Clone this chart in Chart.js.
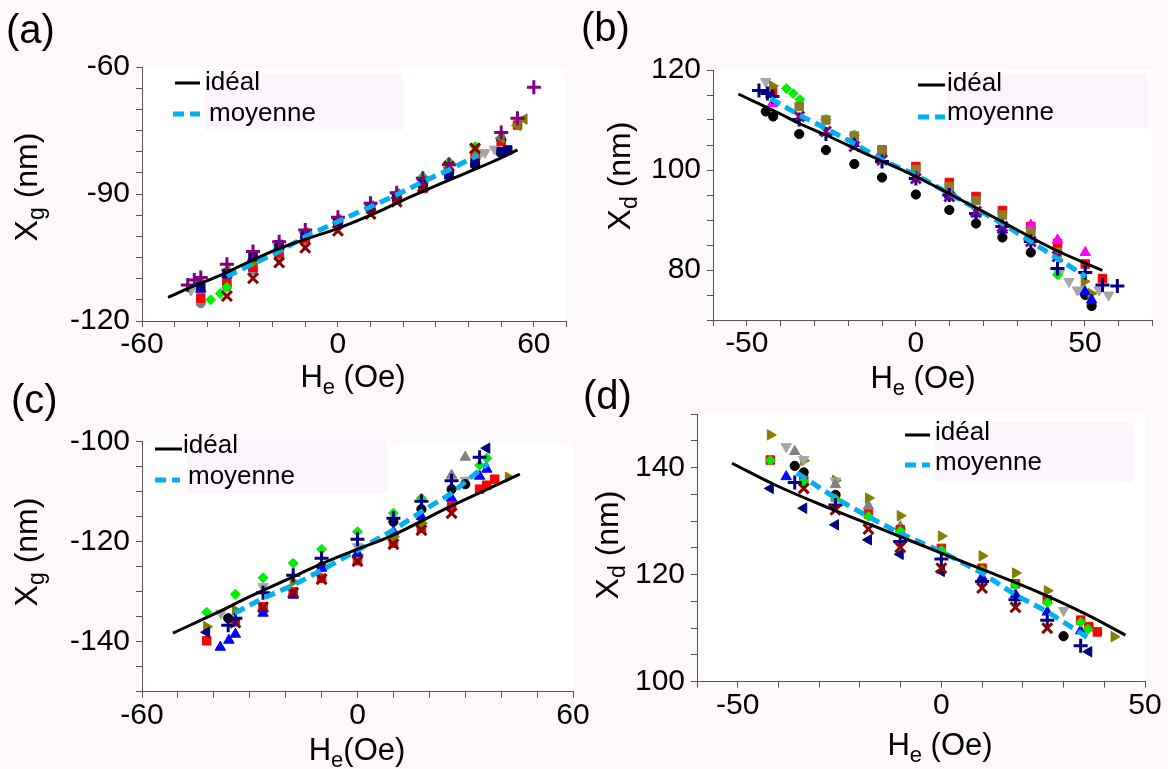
<!DOCTYPE html>
<html><head><meta charset="utf-8">
<script src="https://cdn.jsdelivr.net/npm/chart.js@4.4.0/dist/chart.umd.min.js"></script>
<style>
html,body{margin:0;padding:0;background:#fdf8fc;}
#wrap{position:relative;width:1168px;height:769px;overflow:hidden;}
canvas{position:absolute;left:0;top:0;}
</style></head><body><div id="wrap">
<canvas id="ca" width="1168" height="769"></canvas>
<canvas id="cb" width="1168" height="769"></canvas>
<canvas id="cc" width="1168" height="769"></canvas>
<canvas id="cd" width="1168" height="769"></canvas>
</div>
<script>
// ---------- labels ----------
const legendLabels = ['idéal', 'moyenne'];
const panelLetters = ['(a)', '(b)', '(c)', '(d)'];

// ---------- panel (a) ----------
const aIdealX = [-52, -45, -37, -28, -19, -10, 0, 10, 19, 29, 39, 47, 55];
const aIdealY = [-114.4, -112.0, -109.5, -106.3, -103.2, -100.7, -98.1, -95.0, -91.8, -88.4, -85.1, -82.5, -79.6];
const aMoyX = [-34, -26, -18, -10, 0, 10, 18, 26, 34, 43];
const aMoyY = [-109.5, -106.5, -103.6, -100.1, -96.5, -93.0, -90.2, -87.1, -84.3, -80.8];
const aPlusX = [-46, -44, -42, -34, -26, -18, -10, 0, 10, 18, 26, 34, 50, 55, 60];
const aPlusY = [-111.5, -110.3, -109.7, -106.6, -103.6, -101.3, -98.5, -95.5, -92.2, -89.7, -86.3, -83.1, -75.5, -72.1, -64.8];
const aXX = [-34, -26, -18, -10, 0, 10, 18, 26, 34, 42];
const aXY = [-114.1, -109.9, -106.2, -102.7, -98.7, -94.7, -91.8, -88.3, -83.5, -79.2];
const aSqX = [-42, -34, -26, -18, -10, 0, 10, 18, 26, 34, 42, 50, 55];
const aSqY = [-114.6, -111.0, -107.3, -104.0, -100.5, -97.0, -93.6, -91.3, -88.7, -84.8, -80.8, -77.6, -73.7];
const aGrayCircX = [-42, -34, -26, -18, -10];
const aGrayCircY = [-115.8, -111.9, -108.0, -104.8, -101.5];
const aBlueTriX = [-42, -34, -26, -18, -10, 0, 10, 18, 26, 34, 50];
const aBlueTriY = [-112.5, -109.1, -105.0, -102.3, -99.5, -96.2, -93.0, -90.3, -87.3, -84.3, -76.6];
const aOliveX = [-42, -34, -26, -18, -10, 0, 10, 18, 26, 34, 42, 50, 55, 57];
const aOliveY = [-111.1, -108.0, -105.6, -102.0, -99.2, -96.0, -92.8, -90.0, -86.8, -83.8, -80.2, -76.8, -73.8, -72.3];
const aGrayTriX = [-45, -42, 43, 45, 48];
const aGrayTriY = [-112.7, -113.2, -81.2, -80.2, -79.4];
const aGreenX = [-39, -36, -34, -26, -18, 26, 34, 42];
const aGreenY = [-115.0, -113.5, -112.0, -105.8, -102.5, -85.9, -82.4, -78.8];
const aNavyX = [-42, -34, -26, -18, -10, 0, 10, 18, 26, 34, 42, 50, 52];
const aNavyY = [-111.8, -108.8, -104.8, -102.0, -99.7, -96.5, -93.0, -90.6, -87.5, -85.5, -82.8, -80.0, -79.6];
const aBlackX = [42, 50];
const aBlackY = [-83.1, -80.3];

// ---------- panel (b) ----------
const bIdealX = [-52.5, -40, -34.5, -26.6, -13, 0, 12, 24.6, 40.4, 55.2];
const bIdealY = [115.2, 111.2, 109.3, 107.0, 102.7, 98.7, 94.5, 90.0, 84.3, 79.9];
const bMoyX = [-43, -34.5, -26.6, -18.2, -10, 0, 9.9, 17.8, 25.6, 34, 41.9, 50.3];
const bMoyY = [114.3, 111.0, 108.3, 105.3, 102.0, 99.0, 95.3, 92.3, 89.3, 85.7, 82.3, 78.7];
const bBlackX = [-44.4, -42.2, -34.5, -26.6, -18.2, -10, 0, 9.9, 17.8, 25.6, 34, 50.1, 52];
const bBlackY = [111.7, 110.7, 107.2, 104.0, 101.2, 98.5, 95.1, 92.0, 89.3, 86.5, 83.5, 75.0, 72.8];
const bNavyPlusX = [-46.4, -43.9, -42.4, -34.5, -26.6, -10, 0, 9.9, 17.8, 25.6, 34, 41.9, 50.1, 55.2, 59.6];
const bNavyPlusY = [115.9, 115.3, 114.7, 110.1, 107.2, 101.7, 98.3, 95.0, 91.3, 88.7, 85.7, 80.3, 79.5, 77.0, 76.8];
const bPurpleXX = [-34.5, -26.6, -18.2, -10, 0, 9.9, 17.8, 25.6, 34, 41.9];
const bPurpleXY = [110.7, 107.7, 104.7, 102.0, 98.3, 94.7, 91.7, 88.7, 85.7, 82.7];
const bRedX = [-42.4, -10, 0, 9.9, 17.8, 25.6, 34, 41.9, 50.1, 55.2];
const bRedY = [115.7, 104.0, 100.7, 97.5, 94.7, 91.9, 88.7, 85.3, 81.2, 78.3];
const bMagentaX = [-42.4, 34, 41.9, 50.1];
const bMagentaY = [113.3, 89.0, 86.0, 83.5];
const bOliveSqX = [-34.5, -26.6, -18.2, -10, 0, 9.9, 17.8, 25.6, 34, 41.9];
const bOliveSqY = [112.7, 110.0, 106.8, 103.9, 100.1, 96.7, 93.9, 91.0, 87.7, 83.5];
const bOliveTriX = [-42.4, 49.8, 51.8];
const bOliveTriY = [116.8, 77.7, 75.3];
const bGrayTriX = [-44.4, 42.4, 45.3, 47.8, 54.2, 57];
const bGrayTriY = [117.7, 79.3, 77.7, 76.0, 76.0, 75.0];
const bGreenX = [-38.3, -36.3, -34.3, -26.6, -18.2, 41.9];
const bGreenY = [116.3, 115.3, 114.1, 110.1, 107.0, 79.1];
const bBlueTriX = [-18.2, 9.9, 17.8, 25.6, 50, 52];
const bBlueTriY = [105.3, 95.0, 91.2, 88.0, 75.7, 74.0];

// ---------- panel (c) ----------
const cIdealX = [-51.4, -40, -30, -20, -9.6, 0, 9.9, 25.7, 35, 45.2];
const cIdealY = [-138.3, -134.5, -131.0, -127.7, -124.3, -121.5, -118.7, -113.0, -109.9, -106.5];
const cMoyX = [-34.2, -26.3, -17.9, -10, 0, 9.9, 17.8, 26.2, 36.4];
const cMoyY = [-134.3, -131.3, -128.7, -125.7, -121.7, -117.7, -114.0, -110.3, -104.3];
const cGreenX = [-42, -34, -26.3, -17.9, -10, 0, 10, 17.8, 34, 36];
const cGreenY = [-134.1, -130.5, -127.2, -124.3, -121.5, -118.0, -114.3, -111.3, -104.7, -103.3];
const cNavyPlusX = [-36, -34, -26.3, -17.9, -10, 0, 10, 17.8, 26.2, 34];
const cNavyPlusY = [-136.7, -135.3, -130.2, -126.7, -123.3, -119.5, -115.3, -111.9, -107.8, -103.1];
const cRedX = [-42, -34, -26.3, -17.9, -10, 0, 10, 17.8, 26.2, 34, 36, 38.2];
const cRedY = [-139.8, -136.0, -133.0, -130.0, -127.3, -123.8, -120.3, -117.3, -113.0, -109.5, -108.7, -107.5];
const cXX = [-34, -26.3, -17.9, -10, 0, 10, 17.8, 26.2];
const cXY = [-136.2, -133.1, -130.2, -127.5, -123.9, -120.5, -117.7, -114.3];
const cBlueTriX = [-38.2, -35.8, -34, -26.3, -17.9, -10, 0, 10, 17.8, 26.2, 34, 36];
const cBlueTriY = [-141.1, -139.7, -138.5, -134.3, -130.7, -125.3, -122.3, -118.0, -115.0, -111.3, -106.9, -105.5];
const cNavyLeftX = [-42, 36];
const cNavyLeftY = [-138.1, -101.3];
const cOliveX = [-42, -34, -17.9, -10, 0, 10, 17.8, 42];
const cOliveY = [-137.0, -133.7, -128.0, -125.3, -122.7, -119.0, -116.3, -107.1];
const cGrayUpX = [26.2, 30];
const cGrayUpY = [-106.7, -103.1];
const cGrayDownX = [-38, -26.3, 0, 30];
const cGrayDownY = [-134.3, -129.0, -121.0, -107.7];
const cBlackX = [-36, -10, 10, 17.8, 26.2, 30];
const cBlackY = [-135.3, -125.0, -116.0, -113.5, -109.5, -108.5];

// ---------- panel (d) ----------
const dIdealX = [-51.4, -40.4, -26.5, -13, 0, 11, 22.7, 35, 45.2];
const dIdealY = [140.8, 136.6, 132.1, 128.0, 124.0, 120.7, 117.1, 112.8, 108.7];
const dMoyX = [-35.5, -26, -17.9, -10.1, 0, 10, 18.2, 26, 36.2];
const dMoyY = [139.0, 134.3, 130.8, 127.7, 124.3, 120.3, 116.2, 113.1, 108.1];
const dOliveX = [-42, -33.8, -26, -17.9, -10.1, 0, 10, 18.2, 26, 42.4];
const dOliveY = [146.1, 141.3, 137.6, 134.3, 131.0, 127.2, 123.5, 120.3, 117.0, 108.4];
const dRedX = [-42, -33.8, -26, -17.9, -10.1, 0, 10, 18.2, 26, 34.2, 36.2, 38.3];
const dRedY = [141.4, 137.7, 134.5, 131.3, 128.4, 124.9, 121.2, 118.3, 115.3, 111.5, 110.3, 109.3];
const dGreenX = [-42, -33.8, -26, -17.9, -10.1, 0, 10, 18.2, 26, 34.2, 36];
const dGreenY = [141.3, 137.4, 134.1, 130.9, 128.1, 124.5, 120.9, 118.1, 114.8, 111.1, 109.8];
const dGrayDownX = [-38.1, -33.8, -26, 30];
const dGrayDownY = [143.9, 141.5, 137.5, 113.3];
const dGrayUpX = [-36, -26, -17.9, -10.1];
const dGrayUpY = [143.0, 136.8, 132.8, 129.0];
const dBlackX = [-36, -33.8, -26, 30];
const dBlackY = [140.3, 139.1, 134.9, 108.5];
const dBlueTriX = [-38.1, 10, 18.2, 26, 34.2];
const dBlueTriY = [138.3, 119.5, 116.3, 113.0, 109.5];
const dNavyPlusX = [-36, -26, -10.1, 0, 10, 18.2, 26, 34.2];
const dNavyPlusY = [137.2, 133.0, 126.2, 122.9, 118.7, 115.3, 111.5, 106.7];
const dNavyLeftX = [-42, -33.8, -26, -17.9, -10.1, 0, 36.2];
const dNavyLeftY = [136.1, 132.4, 129.3, 126.5, 123.8, 120.6, 105.6];
const dXX = [-33.8, -26, -17.9, -10.1, 0, 10, 18.2, 26];
const dXY = [136.1, 132.1, 128.5, 125.1, 121.2, 117.5, 113.9, 110.0];

// ---------- styles ----------
const COL = {purple:'#800080', darkred:'#8b0000', red:'#ff0000', gray:'#808080', lgray:'#a6a6a6',
  blue:'#0000ff', olive:'#808000', green:'#00ee00', navy:'#000080', black:'#000000', magenta:'#ff00ff'};
const SHAPE = {
  plus:{ps:'cross', rot:0, r:7, bw:3},
  xrot:{ps:'crossRot', rot:0, r:7, bw:3},
  sq:{ps:'rect', rot:0, r:6, bw:1},
  circ:{ps:'circle', rot:0, r:4.6, bw:1},
  up:{ps:'triangle', rot:0, r:6, bw:1},
  down:{ps:'triangle', rot:180, r:6, bw:1},
  left:{ps:'triangle', rot:-90, r:6, bw:1},
  right:{ps:'triangle', rot:90, r:6, bw:1},
  diam:{ps:'rectRot', rot:0, r:5, bw:1}
};
const zip = (xs, ys) => xs.map((x, i) => ({x, y: ys[i]}));
function pts(xs, ys, color, shape) {
  const s = SHAPE[shape];
  return {data: zip(xs, ys), showLine:false, pointStyle:s.ps, rotation:s.rot, pointRadius:s.r,
    pointBorderWidth:s.bw, borderColor:color, backgroundColor:color, pointBackgroundColor:color, pointBorderColor:color};
}
function ideal(xs, ys) {
  return {label: legendLabels[0], data: zip(xs, ys), showLine:true, pointRadius:0, borderColor:'#000', borderWidth:3,
    tension:0.4, fill:false};
}
function moy(xs, ys) {
  return {label: legendLabels[1], data: zip(xs, ys), showLine:true, pointRadius:0, borderColor:'#00b0f0', borderWidth:5,
    borderDash:[11,6], fill:false};
}

// ---------- text plugin ----------
const FONT = '"Liberation Sans", Arial, sans-serif';
function drawParts(ctx, parts, cx, cy, rotate) {
  ctx.save();
  ctx.translate(cx, cy);
  if (rotate) ctx.rotate(-Math.PI/2);
  let total = 0;
  parts.forEach(p => { ctx.font = p.s + 'px ' + FONT; p.w = ctx.measureText(p.t).width; total += p.w; });
  let x = -total/2;
  ctx.fillStyle = '#000';
  ctx.textBaseline = 'alphabetic';
  ctx.textAlign = 'left';
  parts.forEach(p => { ctx.font = p.s + 'px ' + FONT; ctx.fillText(p.t, x, 11 + (p.dy||0)); x += p.w; });
  ctx.restore();
}
const decor = {
  id:'decor',
  beforeDraw(chart) {
    const {ctx, chartArea:a} = chart;
    ctx.save(); ctx.fillStyle = '#ffffff'; ctx.fillRect(a.left, a.top, a.right-a.left, a.bottom-a.top); ctx.restore();
  },
  afterDraw(chart, args, o) {
    const ctx = chart.ctx;
    const L = o.legend;
    ctx.save();
    ctx.fillStyle = '#fdf5fc';
    ctx.fillRect(L.box[0], L.box[1], L.box[2], L.box[3]);
    ctx.lineWidth = 3; ctx.strokeStyle = '#000'; ctx.setLineDash([]);
    ctx.beginPath(); ctx.moveTo(L.l1[0], L.l1[2]); ctx.lineTo(L.l1[1], L.l1[2]); ctx.stroke();
    ctx.lineWidth = 5; ctx.strokeStyle = '#00b0f0'; ctx.setLineDash([11,6]);
    ctx.beginPath(); ctx.moveTo(L.l2[0], L.l2[2]); ctx.lineTo(L.l2[1], L.l2[2]); ctx.stroke();
    ctx.setLineDash([]);
    ctx.fillStyle = '#000'; ctx.font = '26px ' + FONT;
    ctx.textBaseline = 'middle'; ctx.textAlign = 'left';
    ctx.fillText(chart.data.datasets[0].label, L.t1[0], L.t1[1]);
    ctx.fillText(chart.data.datasets[1].label, L.t2[0], L.t2[1]);
    ctx.font = '40px ' + FONT;
    ctx.textBaseline = 'alphabetic';
    ctx.fillText(o.letter, o.letterPos[0], o.letterPos[1]);
    ctx.restore();
    drawParts(ctx, [{t:'X', s:32}, {t:o.ysub, s:23, dy:7}, {t:' (nm)', s:32}], o.yTitle[0], o.yTitle[1], true);
    drawParts(ctx, [{t:'H', s:31}, {t:'e', s:22, dy:7}, {t:o.xgap + '(Oe)', s:31}], o.xTitle[0], o.xTitle[1], false);
  }
};

function makeChart(id, p) {
  const W = 1168, H = 769;
  const tickFont = {family:FONT, size:30};
  const axisCommon = {
    grid:{display:true, drawOnChartArea:false, drawTicks:true, tickLength:6, tickColor:'#555', color:'#555'},
    border:{display:true, color:'#555', width:1}
  };
  new Chart(document.getElementById(id), {
    type:'scatter',
    data:{datasets:p.datasets},
    options:{
      responsive:false, animation:false, events:[],
      layout:{padding:{left:0, top:p.top, right:W - p.right, bottom:0}},
      plugins:{legend:{display:false}, tooltip:{enabled:false}, decor:p.decor},
      scales:{
        x:Object.assign({type:'linear', position:'bottom', min:p.xr[0], max:p.xr[1],
          ticks:{stepSize:p.xr[2], autoSkip:false, maxRotation:0, padding:0, color:'#000', font:tickFont,
            callback:(v) => p.xmaj.includes(v) ? String(v) : ''},
          afterFit:(s) => { s.height = H - p.bottom; }}, axisCommon),
        y:Object.assign({type:'linear', position:'left', min:p.yr[0], max:p.yr[1],
          ticks:{stepSize:p.yr[2], autoSkip:false, padding:6, color:'#000', font:tickFont,
            callback:(v) => p.ymaj.includes(v) ? String(v) : ''},
          afterFit:(s) => { s.width = p.left; }}, axisCommon)
      }
    },
    plugins:[decor]
  });
}

makeChart('ca', {
  left:142, right:566.5, top:67, bottom:321,
  xr:[-60, 70, 10], xmaj:[-60, 0, 60], yr:[-120, -60, 5], ymaj:[-120, -90, -60],
  datasets:[
    ideal(aIdealX, aIdealY), moy(aMoyX, aMoyY),
    pts(aPlusX, aPlusY, COL.purple, 'plus'),
    pts(aXX, aXY, COL.darkred, 'xrot'),
    pts(aNavyX, aNavyY, COL.navy, 'sq'),
    pts(aBlackX, aBlackY, COL.black, 'circ'),
    pts(aOliveX, aOliveY, COL.olive, 'left'),
    pts(aBlueTriX, aBlueTriY, COL.blue, 'up'),
    pts(aGreenX, aGreenY, COL.green, 'diam'),
    pts(aSqX, aSqY, COL.red, 'sq'),
    pts(aGrayCircX, aGrayCircY, COL.gray, 'circ'),
    pts(aGrayTriX, aGrayTriY, COL.lgray, 'down')
  ],
  decor:{legend:{box:[205,73,198,57], l1:[175,200,83], t1:[205,83], l2:[173,200,114], t2:[209,114]},
    letter:panelLetters[0], letterPos:[6,43], ysub:'g', yTitle:[26,187], xTitle:[353,376], xgap:' '}
});

makeChart('cb', {
  left:713, right:1152.5, top:70, bottom:320,
  xr:[-60, 70, 10], xmaj:[-50, 0, 50], yr:[70, 120, 5], ymaj:[80, 100, 120],
  datasets:[
    ideal(bIdealX, bIdealY), moy(bMoyX, bMoyY),
    pts(bPurpleXX, bPurpleXY, COL.purple, 'xrot'),
    pts(bNavyPlusX, bNavyPlusY, COL.navy, 'plus'),
    pts(bBlueTriX, bBlueTriY, COL.blue, 'up'),
    pts(bOliveSqX, bOliveSqY, '#8c7a2a', 'sq'),
    pts(bOliveTriX, bOliveTriY, COL.olive, 'right'),
    pts(bMagentaX, bMagentaY, COL.magenta, 'up'),
    pts(bRedX, bRedY, COL.red, 'sq'),
    pts(bGreenX, bGreenY, COL.green, 'diam'),
    pts(bGrayTriX, bGrayTriY, COL.lgray, 'down'),
    pts(bBlackX, bBlackY, COL.black, 'circ')
  ],
  decor:{legend:{box:[947,73,200,55], l1:[918,945,85], t1:[947,84], l2:[918,945,117], t2:[947,113]},
    letter:panelLetters[1], letterPos:[581,41], ysub:'d', yTitle:[619,176], xTitle:[923,377], xgap:' '}
});

makeChart('cc', {
  left:142, right:573, top:441.7, bottom:691.7,
  xr:[-60, 60, 10], xmaj:[-60, 0, 60], yr:[-150, -100, 5], ymaj:[-140, -120, -100],
  datasets:[
    ideal(cIdealX, cIdealY), moy(cMoyX, cMoyY),
    pts(cNavyPlusX, cNavyPlusY, COL.navy, 'plus'),
    pts(cXX, cXY, COL.darkred, 'xrot'),
    pts(cGreenX, cGreenY, COL.green, 'diam'),
    pts(cNavyLeftX, cNavyLeftY, COL.navy, 'left'),
    pts(cBlueTriX, cBlueTriY, COL.blue, 'up'),
    pts(cOliveX, cOliveY, COL.olive, 'right'),
    pts(cBlackX, cBlackY, COL.black, 'circ'),
    pts(cGrayUpX, cGrayUpY, COL.gray, 'up'),
    pts(cGrayDownX, cGrayDownY, COL.lgray, 'down'),
    pts(cRedX, cRedY, COL.red, 'sq')
  ],
  decor:{legend:{box:[187,437,200,56], l1:[155,182,449], t1:[183,446], l2:[155,180,480], t2:[188,477]},
    letter:panelLetters[2], letterPos:[11,413], ysub:'g', yTitle:[26,552], xTitle:[357,749], xgap:''}
});

makeChart('cd', {
  left:697, right:1145, top:414, bottom:681.7,
  xr:[-60, 50, 10], xmaj:[-50, 0, 50], yr:[100, 150, 5], ymaj:[100, 120, 140],
  datasets:[
    ideal(dIdealX, dIdealY), moy(dMoyX, dMoyY),
    pts(dXX, dXY, COL.darkred, 'xrot'),
    pts(dNavyPlusX, dNavyPlusY, COL.navy, 'plus'),
    pts(dGreenX, dGreenY, COL.green, 'diam'),
    pts(dNavyLeftX, dNavyLeftY, COL.navy, 'left'),
    pts(dBlueTriX, dBlueTriY, COL.blue, 'up'),
    pts(dBlackX, dBlackY, COL.black, 'circ'),
    pts(dRedX, dRedY, COL.red, 'sq'),
    pts(dGrayUpX, dGrayUpY, COL.gray, 'up'),
    pts(dGrayDownX, dGrayDownY, COL.lgray, 'down'),
    pts(dOliveX, dOliveY, COL.olive, 'right')
  ],
  decor:{legend:{box:[935,423,198,59], l1:[905,930,435], t1:[935,433], l2:[905,930,465], t2:[935,463]},
    letter:panelLetters[3], letterPos:[583,409], ysub:'d', yTitle:[607,545], xTitle:[940,744], xgap:' '}
});
</script>
</body></html>
